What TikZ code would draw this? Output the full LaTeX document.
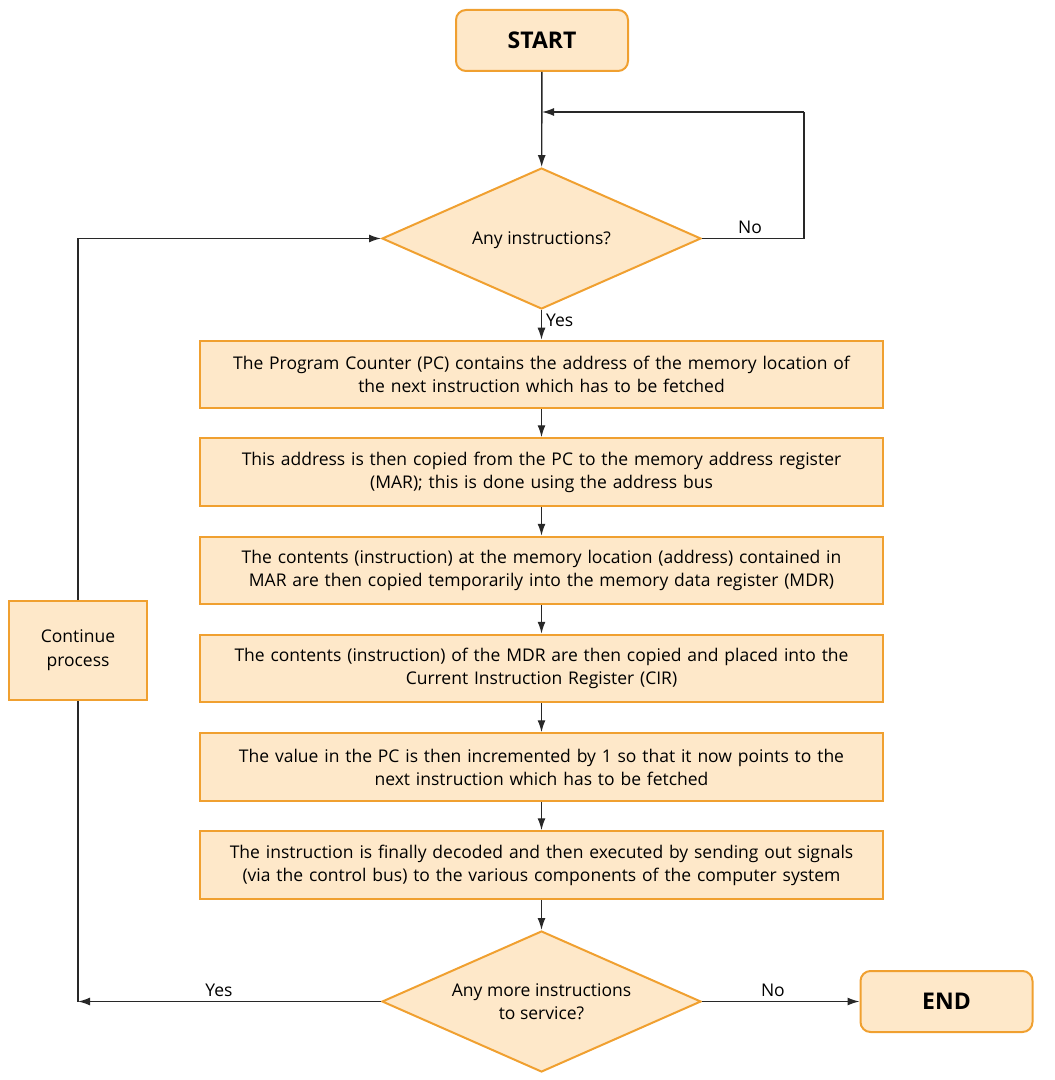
\documentclass[tikz,border=0pt]{standalone}
\usepackage{fontspec}
\setmainfont{Open Sans}
\usetikzlibrary{shapes.geometric,arrows.meta}
\definecolor{boxfill}{RGB}{254,232,201}
\definecolor{boxline}{RGB}{240,160,48}
\definecolor{lin}{RGB}{40,40,40}
\begin{document}
\begin{tikzpicture}[x=0.5pt,y=-0.5pt,
  font=\fontsize{8.75}{11.5}\selectfont,
  base/.style={draw=boxline, fill=boxfill, line width=1pt, align=center, inner sep=0pt},
  term/.style={base, rounded corners=5pt, minimum width=86pt, minimum height=30.5pt, font=\fontsize{11.5}{13}\selectfont\bfseries},
  proc/.style={base, minimum width=341.5pt, minimum height=33.75pt, text width=338pt},
  dec/.style={base, diamond, minimum width=159.5pt, minimum height=70.5pt},
  dectext/.style={align=center, inner sep=0pt},
  cont/.style={base, minimum width=69pt, minimum height=49.5pt, font=\fontsize{8.75}{12}\selectfont},
  arr/.style={draw=lin, line width=0.7pt, -{Latex[length=6pt,width=4pt]}},
  ln/.style={draw=lin, line width=0.7pt},
  lab/.style={inner sep=2pt}]
\useasboundingbox (0,0) rectangle (1054,1080);
\node[term] (start) at (542,40.5) {START};
\node[dec] (d1) at (541.5,238.5) {};
\node[dectext] (d1t) at ([yshift=-1pt]d1.center) {Any instructions?};
\node[proc] (b1) at (541.5,374.5) {The Program Counter (PC) contains the address of the memory location of\\the next instruction which has to be fetched};
\node[proc] (b2) at (541.5,472) {This address is then copied from the PC to the memory address register\\(MAR); this is done using the address bus};
\node[proc] (b3) at (541.5,570.5) {The contents (instruction) at the memory location (address) contained in\\MAR are then copied temporarily into the memory data register (MDR)};
\node[proc] (b4) at (541.5,668.5) {The contents (instruction) of the MDR are then copied and placed into the\\Current Instruction Register (CIR)};
\node[proc] (b5) at (541.5,767) {The value in the PC is then incremented by 1 so that it now points to the\\next instruction which has to be fetched};
\node[proc] (b6) at (541.5,865) {The instruction is finally decoded and then executed by sending out signals\\(via the control bus) to the various components of the computer system};
\node[dec] (d2) at (541.5,1001.5) {};
\node[dectext] (d2t) at (d2) {Any more instructions\\to service?};
\node[term] (end) at (946.5,1001.5) {END};
\node[cont] (cont) at (78,650.5) {Continue\\process};
\coordinate (nr) at (804,238.5);
\coordinate (nt) at (804,112);
\coordinate (nj) at (542,112);
\coordinate (yl) at (78,1001.5);
\draw[arr] (start) -- (d1);
\draw[arr] (d1.south) -- node[lab, right, pos=0.35]{Yes} (b1.north);
\draw[arr] (b1) -- (b2);
\draw[arr] (b2) -- (b3);
\draw[arr] (b3) -- (b4);
\draw[arr] (b4) -- (b5);
\draw[arr] (b5) -- (b6);
\draw[arr] (b6) -- (d2);
\draw[ln] (d1.east) -- node[lab, above, pos=0.47]{No} (nr) -- (nt);
\draw[arr] (nt) -- (nj);
\draw[arr] (d2.east) -- node[lab, above, pos=0.45]{No} (end.west);
\draw[arr] (d2.west) -- node[lab, above, pos=0.535]{Yes} (yl);
\draw[ln] (yl) -- (cont.south);
\draw[arr] (cont.north) |- (d1.west);
\end{tikzpicture}
\end{document}
